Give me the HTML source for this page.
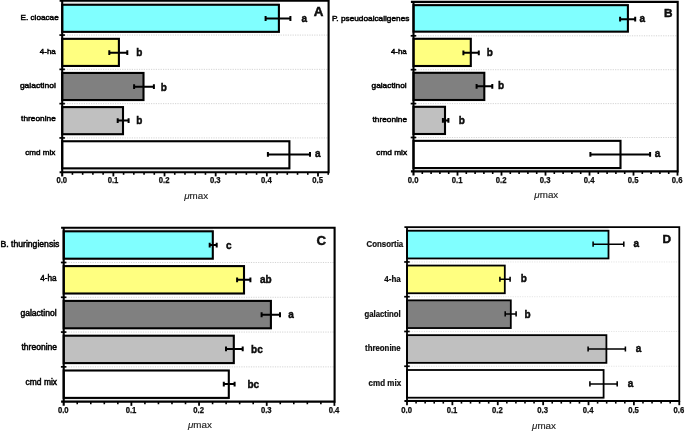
<!DOCTYPE html>
<html lang="en">
<head>
<meta charset="utf-8">
<title>μmax bar charts</title>
<style>
html,body{margin:0;padding:0;background:#fff;}
body{width:685px;height:432px;overflow:hidden;}
svg{display:block;}
text{font-family:"Liberation Sans",Arial,sans-serif;fill:#111;}
.grid{stroke:#cfcfcf;stroke-width:0.9;stroke-dasharray:1.2 1.2;}
.grid.faint{stroke:#e2e2e2;}
.bar{stroke:#000;}
.gap{fill:#ececec;stroke:none;}
.err{stroke:#000;fill:none;}
.axis{stroke:#000;fill:none;stroke-linejoin:miter;}
.ltick{stroke:#000;stroke-width:1.7;}
.tick{stroke:#000;stroke-width:1.8;}
.mtick{stroke:#000;stroke-width:1.6;}
.tl{font-size:8.3px;font-weight:bold;text-anchor:middle;stroke:#000;stroke-width:0.25px;}
.cat{stroke:#000;stroke-width:0.5px;}
.cat.bold{font-weight:bold;stroke-width:0.2px;}
.sig{font-size:10px;font-weight:bold;stroke:#000;stroke-width:0.4px;}
.letter{font-weight:bold;stroke:#000;stroke-width:0.45px;}
.title{font-size:9.8px;text-anchor:middle;fill:#222;stroke:#222;stroke-width:0.15px;}
.mu{font-style:italic;}
</style>
</head>
<body>
<svg width="685" height="432" viewBox="0 0 685 432">
<rect x="0" y="0" width="685" height="432" fill="#ffffff"/>
<g class="panel" id="panelA" stroke-width="2.1">
<line x1="62.2" y1="35.08" x2="328.6" y2="35.08" class="grid"/>
<line x1="62.2" y1="69.36" x2="328.6" y2="69.36" class="grid"/>
<line x1="62.2" y1="103.64" x2="328.6" y2="103.64" class="grid"/>
<line x1="62.2" y1="137.92" x2="328.6" y2="137.92" class="grid"/>
<rect x="62.2" y="0.80" width="216.7" height="2.90" class="gap"/>
<rect x="62.2" y="169.40" width="227.2" height="2.80" class="gap"/>
<rect x="62.2" y="4.75" width="216.7" height="27.10" fill="#80ffff" class="bar"/>
<rect x="62.2" y="38.85" width="56.7" height="27.10" fill="#ffff80" class="bar"/>
<rect x="62.2" y="72.95" width="81.3" height="27.10" fill="#808080" class="bar"/>
<rect x="62.2" y="107.10" width="60.8" height="27.10" fill="#c0c0c0" class="bar"/>
<rect x="62.2" y="141.25" width="227.2" height="27.10" fill="#ffffff" class="bar"/>
<path d="M265.6 18.50H290.4M265.6 16.10V20.90M290.4 16.10V20.90" class="err" stroke-width="2.0"/>
<text x="301.4" y="21.7" class="sig">a</text>
<path d="M109.3 52.70H127.3M109.3 50.30V55.10M127.3 50.30V55.10" class="err" stroke-width="2.0"/>
<text x="136.2" y="56.2" class="sig">b</text>
<path d="M134.1 86.65H153.9M134.1 84.25V89.05M153.9 84.25V89.05" class="err" stroke-width="2.0"/>
<text x="160.7" y="90.9" class="sig">b</text>
<path d="M117.7 120.60H128.6M117.7 118.20V123.00M128.6 118.20V123.00" class="err" stroke-width="2.0"/>
<text x="136.2" y="124.3" class="sig">b</text>
<path d="M267.9 154.40H310.0M267.9 152.00V156.80M310.0 152.00V156.80" class="err" stroke-width="2.0"/>
<text x="315.1" y="156.5" class="sig">a</text>
<path d="M59.6 0.80H328.6V172.20H59.6M62.2 0.80V176.40" class="axis"/>
<line x1="59.4" y1="35.08" x2="64.9" y2="35.08" class="ltick"/>
<line x1="59.4" y1="69.36" x2="64.9" y2="69.36" class="ltick"/>
<line x1="59.4" y1="103.64" x2="64.9" y2="103.64" class="ltick"/>
<line x1="59.4" y1="137.92" x2="64.9" y2="137.92" class="ltick"/>
<text x="61.8" y="182.5" class="tl" textLength="10.7" lengthAdjust="spacingAndGlyphs">0.0</text>
<line x1="72.43" y1="172.20" x2="72.43" y2="174.80" class="mtick"/>
<line x1="82.66" y1="172.20" x2="82.66" y2="174.80" class="mtick"/>
<line x1="92.90" y1="172.20" x2="92.90" y2="174.80" class="mtick"/>
<line x1="103.13" y1="172.20" x2="103.13" y2="174.80" class="mtick"/>
<line x1="113.36" y1="172.20" x2="113.36" y2="176.40" class="tick"/>
<text x="113.0" y="182.5" class="tl" textLength="10.7" lengthAdjust="spacingAndGlyphs">0.1</text>
<line x1="123.59" y1="172.20" x2="123.59" y2="174.80" class="mtick"/>
<line x1="133.82" y1="172.20" x2="133.82" y2="174.80" class="mtick"/>
<line x1="144.06" y1="172.20" x2="144.06" y2="174.80" class="mtick"/>
<line x1="154.29" y1="172.20" x2="154.29" y2="174.80" class="mtick"/>
<line x1="164.52" y1="172.20" x2="164.52" y2="176.40" class="tick"/>
<text x="164.1" y="182.5" class="tl" textLength="10.7" lengthAdjust="spacingAndGlyphs">0.2</text>
<line x1="174.75" y1="172.20" x2="174.75" y2="174.80" class="mtick"/>
<line x1="184.98" y1="172.20" x2="184.98" y2="174.80" class="mtick"/>
<line x1="195.22" y1="172.20" x2="195.22" y2="174.80" class="mtick"/>
<line x1="205.45" y1="172.20" x2="205.45" y2="174.80" class="mtick"/>
<line x1="215.68" y1="172.20" x2="215.68" y2="176.40" class="tick"/>
<text x="215.3" y="182.5" class="tl" textLength="10.7" lengthAdjust="spacingAndGlyphs">0.3</text>
<line x1="225.91" y1="172.20" x2="225.91" y2="174.80" class="mtick"/>
<line x1="236.14" y1="172.20" x2="236.14" y2="174.80" class="mtick"/>
<line x1="246.38" y1="172.20" x2="246.38" y2="174.80" class="mtick"/>
<line x1="256.61" y1="172.20" x2="256.61" y2="174.80" class="mtick"/>
<line x1="266.84" y1="172.20" x2="266.84" y2="176.40" class="tick"/>
<text x="266.4" y="182.5" class="tl" textLength="10.7" lengthAdjust="spacingAndGlyphs">0.4</text>
<line x1="277.07" y1="172.20" x2="277.07" y2="174.80" class="mtick"/>
<line x1="287.30" y1="172.20" x2="287.30" y2="174.80" class="mtick"/>
<line x1="297.54" y1="172.20" x2="297.54" y2="174.80" class="mtick"/>
<line x1="307.77" y1="172.20" x2="307.77" y2="174.80" class="mtick"/>
<line x1="318.00" y1="172.20" x2="318.00" y2="176.40" class="tick"/>
<text x="317.6" y="182.5" class="tl" textLength="10.7" lengthAdjust="spacingAndGlyphs">0.5</text>
<line x1="328.23" y1="172.20" x2="328.23" y2="174.80" class="mtick"/>
<text x="20.5" y="19.9" class="cat" font-size="8.1" textLength="38.2" lengthAdjust="spacingAndGlyphs">E. cloacae</text>
<text x="39.8" y="53.7" class="cat" font-size="8.1" textLength="16.0" lengthAdjust="spacingAndGlyphs">4-ha</text>
<text x="19.9" y="87.5" class="cat" font-size="8.1" textLength="35.9" lengthAdjust="spacingAndGlyphs">galactinol</text>
<text x="21.1" y="121.4" class="cat" font-size="8.1" textLength="34.7" lengthAdjust="spacingAndGlyphs">threonine</text>
<text x="25.2" y="155.2" class="cat" font-size="8.1" textLength="30.2" lengthAdjust="spacingAndGlyphs">cmd mix</text>
<text x="313.8" y="15.8" class="letter" font-size="13.4">A</text>
<text x="196.1" y="198.8" class="title"><tspan class="mu">μ</tspan>max</text>
</g>
<g class="panel" id="panelB" stroke-width="2.1">
<line x1="413.5" y1="35.80" x2="677.7" y2="35.80" class="grid"/>
<line x1="413.5" y1="69.70" x2="677.7" y2="69.70" class="grid"/>
<line x1="413.5" y1="103.60" x2="677.7" y2="103.60" class="grid"/>
<line x1="413.5" y1="137.50" x2="677.7" y2="137.50" class="grid"/>
<rect x="413.5" y="1.90" width="214.4" height="2.20" class="gap"/>
<rect x="413.5" y="169.10" width="207.0" height="2.30" class="gap"/>
<rect x="413.5" y="5.15" width="214.4" height="26.50" fill="#80ffff" class="bar"/>
<rect x="413.5" y="38.80" width="57.3" height="27.20" fill="#ffff80" class="bar"/>
<rect x="413.5" y="72.80" width="70.8" height="27.20" fill="#808080" class="bar"/>
<rect x="413.5" y="106.80" width="31.5" height="27.20" fill="#c0c0c0" class="bar"/>
<rect x="413.5" y="140.85" width="207.0" height="27.20" fill="#ffffff" class="bar"/>
<path d="M620.1 19.20H635.2M620.1 16.80V21.60M635.2 16.80V21.60" class="err" stroke-width="2.0"/>
<text x="639.5" y="22.1" class="sig">a</text>
<path d="M463.4 52.80H478.8M463.4 50.40V55.20M478.8 50.40V55.20" class="err" stroke-width="2.0"/>
<text x="486.7" y="55.7" class="sig">b</text>
<path d="M476.6 86.30H492.3M476.6 83.90V88.70M492.3 83.90V88.70" class="err" stroke-width="2.0"/>
<text x="498.0" y="89.2" class="sig">b</text>
<path d="M442.9 120.40H448.4M442.9 118.00V122.80M448.4 118.00V122.80" class="err" stroke-width="2.0"/>
<text x="458.7" y="123.5" class="sig">b</text>
<path d="M590.4 154.40H650.1M590.4 152.00V156.80M650.1 152.00V156.80" class="err" stroke-width="2.0"/>
<text x="654.7" y="156.7" class="sig">a</text>
<path d="M410.9 1.90H677.7V171.40H410.9M413.5 1.90V175.60" class="axis"/>
<line x1="410.7" y1="35.80" x2="416.2" y2="35.80" class="ltick"/>
<line x1="410.7" y1="69.70" x2="416.2" y2="69.70" class="ltick"/>
<line x1="410.7" y1="103.60" x2="416.2" y2="103.60" class="ltick"/>
<line x1="410.7" y1="137.50" x2="416.2" y2="137.50" class="ltick"/>
<text x="413.1" y="182.5" class="tl" textLength="10.7" lengthAdjust="spacingAndGlyphs">0.0</text>
<line x1="422.30" y1="171.40" x2="422.30" y2="174.00" class="mtick"/>
<line x1="431.10" y1="171.40" x2="431.10" y2="174.00" class="mtick"/>
<line x1="439.90" y1="171.40" x2="439.90" y2="174.00" class="mtick"/>
<line x1="448.70" y1="171.40" x2="448.70" y2="174.00" class="mtick"/>
<line x1="457.50" y1="171.40" x2="457.50" y2="175.60" class="tick"/>
<text x="457.1" y="182.5" class="tl" textLength="10.7" lengthAdjust="spacingAndGlyphs">0.1</text>
<line x1="466.30" y1="171.40" x2="466.30" y2="174.00" class="mtick"/>
<line x1="475.10" y1="171.40" x2="475.10" y2="174.00" class="mtick"/>
<line x1="483.90" y1="171.40" x2="483.90" y2="174.00" class="mtick"/>
<line x1="492.70" y1="171.40" x2="492.70" y2="174.00" class="mtick"/>
<line x1="501.50" y1="171.40" x2="501.50" y2="175.60" class="tick"/>
<text x="501.1" y="182.5" class="tl" textLength="10.7" lengthAdjust="spacingAndGlyphs">0.2</text>
<line x1="510.30" y1="171.40" x2="510.30" y2="174.00" class="mtick"/>
<line x1="519.10" y1="171.40" x2="519.10" y2="174.00" class="mtick"/>
<line x1="527.90" y1="171.40" x2="527.90" y2="174.00" class="mtick"/>
<line x1="536.70" y1="171.40" x2="536.70" y2="174.00" class="mtick"/>
<line x1="545.50" y1="171.40" x2="545.50" y2="175.60" class="tick"/>
<text x="545.1" y="182.5" class="tl" textLength="10.7" lengthAdjust="spacingAndGlyphs">0.3</text>
<line x1="554.30" y1="171.40" x2="554.30" y2="174.00" class="mtick"/>
<line x1="563.10" y1="171.40" x2="563.10" y2="174.00" class="mtick"/>
<line x1="571.90" y1="171.40" x2="571.90" y2="174.00" class="mtick"/>
<line x1="580.70" y1="171.40" x2="580.70" y2="174.00" class="mtick"/>
<line x1="589.50" y1="171.40" x2="589.50" y2="175.60" class="tick"/>
<text x="589.1" y="182.5" class="tl" textLength="10.7" lengthAdjust="spacingAndGlyphs">0.4</text>
<line x1="598.30" y1="171.40" x2="598.30" y2="174.00" class="mtick"/>
<line x1="607.10" y1="171.40" x2="607.10" y2="174.00" class="mtick"/>
<line x1="615.90" y1="171.40" x2="615.90" y2="174.00" class="mtick"/>
<line x1="624.70" y1="171.40" x2="624.70" y2="174.00" class="mtick"/>
<line x1="633.50" y1="171.40" x2="633.50" y2="175.60" class="tick"/>
<text x="633.1" y="182.5" class="tl" textLength="10.7" lengthAdjust="spacingAndGlyphs">0.5</text>
<line x1="642.30" y1="171.40" x2="642.30" y2="174.00" class="mtick"/>
<line x1="651.10" y1="171.40" x2="651.10" y2="174.00" class="mtick"/>
<line x1="659.90" y1="171.40" x2="659.90" y2="174.00" class="mtick"/>
<line x1="668.70" y1="171.40" x2="668.70" y2="174.00" class="mtick"/>
<line x1="677.50" y1="171.40" x2="677.50" y2="175.60" class="tick"/>
<text x="677.1" y="182.5" class="tl" textLength="10.7" lengthAdjust="spacingAndGlyphs">0.6</text>
<text x="331.9" y="20.6" class="cat" font-size="8.1" textLength="77.5" lengthAdjust="spacingAndGlyphs">P. pseudoalcaligenes</text>
<text x="390.9" y="54.3" class="cat" font-size="8.1" textLength="15.8" lengthAdjust="spacingAndGlyphs">4-ha</text>
<text x="371.5" y="88.0" class="cat" font-size="8.1" textLength="35.2" lengthAdjust="spacingAndGlyphs">galactinol</text>
<text x="372.5" y="121.7" class="cat" font-size="8.1" textLength="34.6" lengthAdjust="spacingAndGlyphs">threonine</text>
<text x="376.3" y="155.4" class="cat" font-size="8.1" textLength="30.8" lengthAdjust="spacingAndGlyphs">cmd mix</text>
<text x="664.0" y="17.3" class="letter" font-size="11.8">B</text>
<text x="546.3" y="197.9" class="title"><tspan class="mu">μ</tspan>max</text>
</g>
<g class="panel" id="panelC" stroke-width="2.1">
<line x1="63.7" y1="262.49" x2="334.6" y2="262.49" class="grid"/>
<line x1="63.7" y1="297.28" x2="334.6" y2="297.28" class="grid"/>
<line x1="63.7" y1="332.07" x2="334.6" y2="332.07" class="grid"/>
<line x1="63.7" y1="366.86" x2="334.6" y2="366.86" class="grid"/>
<rect x="63.7" y="227.70" width="149.1" height="2.55" class="gap"/>
<rect x="63.7" y="398.95" width="165.1" height="2.70" class="gap"/>
<rect x="63.7" y="231.30" width="149.1" height="27.40" fill="#80ffff" class="bar"/>
<rect x="63.7" y="266.10" width="180.3" height="27.40" fill="#ffff80" class="bar"/>
<rect x="63.7" y="300.90" width="207.2" height="27.40" fill="#808080" class="bar"/>
<rect x="63.7" y="335.70" width="170.1" height="27.40" fill="#c0c0c0" class="bar"/>
<rect x="63.7" y="370.50" width="165.1" height="27.40" fill="#ffffff" class="bar"/>
<path d="M209.7 245.10H216.7M209.7 242.70V247.50M216.7 242.70V247.50" class="err" stroke-width="2.0"/>
<text x="226.1" y="248.6" class="sig">c</text>
<path d="M237.1 279.80H250.4M237.1 277.40V282.20M250.4 277.40V282.20" class="err" stroke-width="2.0"/>
<text x="260.0" y="283.1" class="sig">ab</text>
<path d="M261.6 314.75H280.0M261.6 312.35V317.15M280.0 312.35V317.15" class="err" stroke-width="2.0"/>
<text x="288.2" y="317.7" class="sig">a</text>
<path d="M226.0 348.90H242.7M226.0 346.50V351.30M242.7 346.50V351.30" class="err" stroke-width="2.0"/>
<text x="251.1" y="352.8" class="sig">bc</text>
<path d="M223.8 384.05H234.6M223.8 381.65V386.45M234.6 381.65V386.45" class="err" stroke-width="2.0"/>
<text x="247.5" y="387.6" class="sig">bc</text>
<path d="M61.1 227.70H334.6V401.65H61.1M63.7 227.70V405.85" class="axis"/>
<line x1="60.9" y1="262.49" x2="66.4" y2="262.49" class="ltick"/>
<line x1="60.9" y1="297.28" x2="66.4" y2="297.28" class="ltick"/>
<line x1="60.9" y1="332.07" x2="66.4" y2="332.07" class="ltick"/>
<line x1="60.9" y1="366.86" x2="66.4" y2="366.86" class="ltick"/>
<text x="63.3" y="412.7" class="tl" textLength="10.7" lengthAdjust="spacingAndGlyphs">0.0</text>
<line x1="77.23" y1="401.65" x2="77.23" y2="404.25" class="mtick"/>
<line x1="90.77" y1="401.65" x2="90.77" y2="404.25" class="mtick"/>
<line x1="104.31" y1="401.65" x2="104.31" y2="404.25" class="mtick"/>
<line x1="117.84" y1="401.65" x2="117.84" y2="404.25" class="mtick"/>
<line x1="131.38" y1="401.65" x2="131.38" y2="405.85" class="tick"/>
<text x="131.0" y="412.7" class="tl" textLength="10.7" lengthAdjust="spacingAndGlyphs">0.1</text>
<line x1="144.91" y1="401.65" x2="144.91" y2="404.25" class="mtick"/>
<line x1="158.44" y1="401.65" x2="158.44" y2="404.25" class="mtick"/>
<line x1="171.98" y1="401.65" x2="171.98" y2="404.25" class="mtick"/>
<line x1="185.51" y1="401.65" x2="185.51" y2="404.25" class="mtick"/>
<line x1="199.05" y1="401.65" x2="199.05" y2="405.85" class="tick"/>
<text x="198.7" y="412.7" class="tl" textLength="10.7" lengthAdjust="spacingAndGlyphs">0.2</text>
<line x1="212.58" y1="401.65" x2="212.58" y2="404.25" class="mtick"/>
<line x1="226.12" y1="401.65" x2="226.12" y2="404.25" class="mtick"/>
<line x1="239.66" y1="401.65" x2="239.66" y2="404.25" class="mtick"/>
<line x1="253.19" y1="401.65" x2="253.19" y2="404.25" class="mtick"/>
<line x1="266.73" y1="401.65" x2="266.73" y2="405.85" class="tick"/>
<text x="266.3" y="412.7" class="tl" textLength="10.7" lengthAdjust="spacingAndGlyphs">0.3</text>
<line x1="280.26" y1="401.65" x2="280.26" y2="404.25" class="mtick"/>
<line x1="293.80" y1="401.65" x2="293.80" y2="404.25" class="mtick"/>
<line x1="307.33" y1="401.65" x2="307.33" y2="404.25" class="mtick"/>
<line x1="320.87" y1="401.65" x2="320.87" y2="404.25" class="mtick"/>
<line x1="334.40" y1="401.65" x2="334.40" y2="405.85" class="tick"/>
<text x="334.0" y="412.7" class="tl" textLength="10.7" lengthAdjust="spacingAndGlyphs">0.4</text>
<text x="0.6" y="246.5" class="cat" font-size="8.4" textLength="58.8" lengthAdjust="spacingAndGlyphs">B. thuringiensis</text>
<text x="40.2" y="281.1" class="cat" font-size="8.4" textLength="16.4" lengthAdjust="spacingAndGlyphs">4-ha</text>
<text x="20.4" y="315.7" class="cat" font-size="8.4" textLength="36.2" lengthAdjust="spacingAndGlyphs">galactinol</text>
<text x="21.5" y="350.3" class="cat" font-size="8.4" textLength="35.6" lengthAdjust="spacingAndGlyphs">threonine</text>
<text x="25.6" y="384.9" class="cat" font-size="8.4" textLength="31.5" lengthAdjust="spacingAndGlyphs">cmd mix</text>
<text x="316.5" y="245.0" class="letter" font-size="13.2">C</text>
<text x="199.9" y="428.2" class="title"><tspan class="mu">μ</tspan>max</text>
</g>
<g class="panel" id="panelD" stroke-width="1.8">
<line x1="407.0" y1="261.96" x2="679.3" y2="261.96" class="grid faint"/>
<line x1="407.0" y1="296.72" x2="679.3" y2="296.72" class="grid faint"/>
<line x1="407.0" y1="331.48" x2="679.3" y2="331.48" class="grid faint"/>
<line x1="407.0" y1="366.24" x2="679.3" y2="366.24" class="grid faint"/>
<rect x="407.0" y="227.20" width="201.5" height="2.65" class="gap"/>
<rect x="407.0" y="398.60" width="196.6" height="2.40" class="gap"/>
<rect x="407.0" y="230.75" width="201.5" height="27.70" fill="#80ffff" class="bar"/>
<rect x="407.0" y="265.55" width="97.8" height="27.70" fill="#ffff80" class="bar"/>
<rect x="407.0" y="300.35" width="103.8" height="27.70" fill="#808080" class="bar"/>
<rect x="407.0" y="335.15" width="199.4" height="27.70" fill="#c0c0c0" class="bar"/>
<rect x="407.0" y="370.00" width="196.6" height="27.70" fill="#ffffff" class="bar"/>
<path d="M593.1 244.15H623.8M593.1 241.60V246.70M623.8 241.60V246.70" class="err" stroke-width="1.55"/>
<text x="633.6" y="247.1" class="sig">a</text>
<path d="M499.9 279.20H510.1M499.9 276.65V281.75M510.1 276.65V281.75" class="err" stroke-width="1.55"/>
<text x="520.7" y="282.0" class="sig">b</text>
<path d="M505.2 313.90H516.1M505.2 311.35V316.45M516.1 311.35V316.45" class="err" stroke-width="1.55"/>
<text x="524.6" y="317.8" class="sig">b</text>
<path d="M588.1 349.00H625.4M588.1 346.45V351.55M625.4 346.45V351.55" class="err" stroke-width="1.55"/>
<text x="635.7" y="352.0" class="sig">a</text>
<path d="M589.9 383.90H617.2M589.9 381.35V386.45M617.2 381.35V386.45" class="err" stroke-width="1.55"/>
<text x="627.8" y="386.5" class="sig">a</text>
<path d="M404.4 227.20H679.3V401.00H404.4M407.0 227.20V405.20" class="axis"/>
<line x1="404.2" y1="261.96" x2="409.7" y2="261.96" class="ltick"/>
<line x1="404.2" y1="296.72" x2="409.7" y2="296.72" class="ltick"/>
<line x1="404.2" y1="331.48" x2="409.7" y2="331.48" class="ltick"/>
<line x1="404.2" y1="366.24" x2="409.7" y2="366.24" class="ltick"/>
<text x="406.6" y="412.9" class="tl" textLength="10.7" lengthAdjust="spacingAndGlyphs">0.0</text>
<line x1="416.08" y1="401.00" x2="416.08" y2="403.60" class="mtick"/>
<line x1="425.15" y1="401.00" x2="425.15" y2="403.60" class="mtick"/>
<line x1="434.23" y1="401.00" x2="434.23" y2="403.60" class="mtick"/>
<line x1="443.30" y1="401.00" x2="443.30" y2="403.60" class="mtick"/>
<line x1="452.38" y1="401.00" x2="452.38" y2="405.20" class="tick"/>
<text x="452.0" y="412.9" class="tl" textLength="10.7" lengthAdjust="spacingAndGlyphs">0.1</text>
<line x1="461.46" y1="401.00" x2="461.46" y2="403.60" class="mtick"/>
<line x1="470.53" y1="401.00" x2="470.53" y2="403.60" class="mtick"/>
<line x1="479.61" y1="401.00" x2="479.61" y2="403.60" class="mtick"/>
<line x1="488.68" y1="401.00" x2="488.68" y2="403.60" class="mtick"/>
<line x1="497.76" y1="401.00" x2="497.76" y2="405.20" class="tick"/>
<text x="497.4" y="412.9" class="tl" textLength="10.7" lengthAdjust="spacingAndGlyphs">0.2</text>
<line x1="506.84" y1="401.00" x2="506.84" y2="403.60" class="mtick"/>
<line x1="515.91" y1="401.00" x2="515.91" y2="403.60" class="mtick"/>
<line x1="524.99" y1="401.00" x2="524.99" y2="403.60" class="mtick"/>
<line x1="534.06" y1="401.00" x2="534.06" y2="403.60" class="mtick"/>
<line x1="543.14" y1="401.00" x2="543.14" y2="405.20" class="tick"/>
<text x="542.7" y="412.9" class="tl" textLength="10.7" lengthAdjust="spacingAndGlyphs">0.3</text>
<line x1="552.22" y1="401.00" x2="552.22" y2="403.60" class="mtick"/>
<line x1="561.29" y1="401.00" x2="561.29" y2="403.60" class="mtick"/>
<line x1="570.37" y1="401.00" x2="570.37" y2="403.60" class="mtick"/>
<line x1="579.44" y1="401.00" x2="579.44" y2="403.60" class="mtick"/>
<line x1="588.52" y1="401.00" x2="588.52" y2="405.20" class="tick"/>
<text x="588.1" y="412.9" class="tl" textLength="10.7" lengthAdjust="spacingAndGlyphs">0.4</text>
<line x1="597.60" y1="401.00" x2="597.60" y2="403.60" class="mtick"/>
<line x1="606.67" y1="401.00" x2="606.67" y2="403.60" class="mtick"/>
<line x1="615.75" y1="401.00" x2="615.75" y2="403.60" class="mtick"/>
<line x1="624.82" y1="401.00" x2="624.82" y2="403.60" class="mtick"/>
<line x1="633.90" y1="401.00" x2="633.90" y2="405.20" class="tick"/>
<text x="633.5" y="412.9" class="tl" textLength="10.7" lengthAdjust="spacingAndGlyphs">0.5</text>
<line x1="642.98" y1="401.00" x2="642.98" y2="403.60" class="mtick"/>
<line x1="652.05" y1="401.00" x2="652.05" y2="403.60" class="mtick"/>
<line x1="661.13" y1="401.00" x2="661.13" y2="403.60" class="mtick"/>
<line x1="670.20" y1="401.00" x2="670.20" y2="403.60" class="mtick"/>
<line x1="679.28" y1="401.00" x2="679.28" y2="405.20" class="tick"/>
<text x="678.9" y="412.9" class="tl" textLength="10.7" lengthAdjust="spacingAndGlyphs">0.6</text>
<text x="366.6" y="246.9" class="cat bold" font-size="8.2" textLength="36.6" lengthAdjust="spacingAndGlyphs">Consortia</text>
<text x="384.3" y="281.7" class="cat bold" font-size="8.2" textLength="16.4" lengthAdjust="spacingAndGlyphs">4-ha</text>
<text x="364.5" y="316.6" class="cat bold" font-size="8.2" textLength="36.2" lengthAdjust="spacingAndGlyphs">galactinol</text>
<text x="365.1" y="351.4" class="cat bold" font-size="8.2" textLength="35.6" lengthAdjust="spacingAndGlyphs">threonine</text>
<text x="368.6" y="386.2" class="cat bold" font-size="8.2" textLength="32.5" lengthAdjust="spacingAndGlyphs">cmd mix</text>
<text x="662.6" y="242.7" class="letter" font-size="11.8">D</text>
<text x="544.0" y="428.7" class="title"><tspan class="mu">μ</tspan>max</text>
</g>
</svg>
</body>
</html>
